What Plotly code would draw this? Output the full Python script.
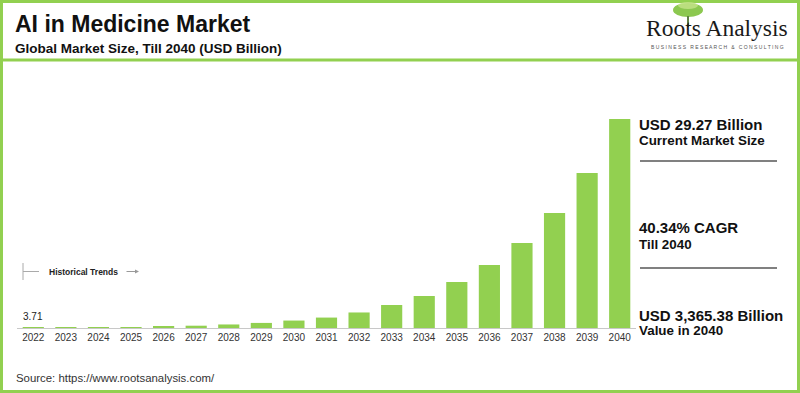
import plotly.graph_objects as go

years = [str(y) for y in range(2022, 2041)]
market_size = [3.71, 6, 10, 15, 24, 37, 57, 82, 120, 168, 250, 370, 515, 741,
               1014, 1369, 1852, 2496, 3365.38]
first_label = "3.71"

title = "AI in Medicine Market"
subtitle = "Global Market Size, Till 2040 (USD Billion)"
source = "Source: https://www.rootsanalysis.com/"
side_texts = [("USD 29.27 Billion", "Current Market Size"),
              ("40.34% CAGR", "Till 2040"),
              ("USD 3,365.38 Billion", "Value in 2040")]

W, H = 800, 393
L, R, T, B = 17, 636, 100, 328
GREEN = "#92D050"
FONT = "Arial, Liberation Sans, sans-serif"


def px(x):
    return (x - L) / (R - L)


def py(y):
    return (B - y) / (B - T)


fig = go.Figure(go.Bar(
    x=years, y=market_size, marker_color=GREEN, marker_line_width=0,
    hoverinfo="x+y"))

ymax = market_size[-1] * (B - T) / (B - 119)

shapes = []
annotations = []

# outer border
shapes.append(dict(type="rect", xref="paper", yref="paper",
                   x0=px(1.5), x1=px(W - 1.5), y0=py(H - 1.5), y1=py(1.5),
                   line=dict(color=GREEN, width=3)))
# header separator
shapes.append(dict(type="line", xref="paper", yref="paper",
                   x0=px(2), x1=px(W - 2), y0=py(60), y1=py(60),
                   line=dict(color=GREEN, width=3)))

annotations.append(dict(xref="paper", yref="paper", x=px(13), y=py(24),
                        xanchor="left", yanchor="middle", showarrow=False,
                        text="<b>" + title + "</b>",
                        font=dict(family=FONT, size=23, color="#111")))
annotations.append(dict(xref="paper", yref="paper", x=px(13), y=py(48.5),
                        xanchor="left", yanchor="middle", showarrow=False,
                        text="<b>" + subtitle + "</b>",
                        font=dict(family=FONT, size=13.5, color="#111")))

# logo (tree + wordmark)
shapes.append(dict(type="circle", xref="paper", yref="paper",
                   x0=px(673), x1=px(703), y0=py(17), y1=py(3),
                   fillcolor="#8CC850", line=dict(width=0)))
shapes.append(dict(type="circle", xref="paper", yref="paper",
                   x0=px(678), x1=px(698), y0=py(9), y1=py(2),
                   fillcolor="#C6E48A", line=dict(width=0), opacity=0.8))
shapes.append(dict(type="line", xref="paper", yref="paper",
                   x0=px(688), x1=px(688), y0=py(16), y1=py(27),
                   line=dict(color="#5f7f45", width=2)))
annotations.append(dict(xref="paper", yref="paper", x=px(717), y=py(28),
                        xanchor="center", yanchor="middle", showarrow=False,
                        text="Roots Analysis",
                        font=dict(family="Liberation Serif, Times New Roman, serif",
                                  size=23.5, color="#1a1a1a")))
annotations.append(dict(xref="paper", yref="paper", x=px(717), y=py(47),
                        xanchor="center", yanchor="middle", showarrow=False,
                        text="B U S I N E S S   R E S E A R C H   &   C O N S U L T I N G",
                        font=dict(family=FONT, size=5, color="#555")))

# historical trends marker
shapes.append(dict(type="line", xref="paper", yref="paper",
                   x0=px(23), x1=px(23), y0=py(263), y1=py(280),
                   line=dict(color="#aaa", width=1)))
shapes.append(dict(type="line", xref="paper", yref="paper",
                   x0=px(23), x1=px(39), y0=py(271.5), y1=py(271.5),
                   line=dict(color="#aaa", width=1)))
annotations.append(dict(xref="paper", yref="paper", x=px(47), y=py(271.5),
                        xanchor="left", yanchor="middle", showarrow=False,
                        text="<b>Historical Trends</b>",
                        font=dict(family=FONT, size=8.5, color="#222")))
annotations.append(dict(xref="paper", yref="paper", x=px(139), y=py(271.5),
                        ax=-14, ay=0, axref="pixel", ayref="pixel",
                        showarrow=True, arrowhead=2, arrowsize=0.8,
                        arrowwidth=1, arrowcolor="#999", text=""))

# first value label (category index 0)
annotations.append(dict(xref="x", yref="y", x=0, y=market_size[0], yshift=4,
                        xanchor="center", yanchor="bottom", showarrow=False,
                        text=first_label, font=dict(family=FONT, size=10, color="#222")))

# side panel
side_y = [(124, 140), (227, 244), (315, 330)]
for (t1, t2), (y1, y2) in zip(side_texts, side_y):
    annotations.append(dict(xref="paper", yref="paper", x=px(637), y=py(y1),
                            xanchor="left", yanchor="middle", showarrow=False,
                            text="<b>" + t1 + "</b>",
                            font=dict(family=FONT, size=15, color="#111")))
    annotations.append(dict(xref="paper", yref="paper", x=px(637), y=py(y2),
                            xanchor="left", yanchor="middle", showarrow=False,
                            text="<b>" + t2 + "</b>",
                            font=dict(family=FONT, size=13.4, color="#111")))
for yy in (161, 268):
    shapes.append(dict(type="line", xref="paper", yref="paper",
                       x0=px(640), x1=px(777), y0=py(yy), y1=py(yy),
                       line=dict(color="#808080", width=2)))

annotations.append(dict(xref="paper", yref="paper", x=px(14), y=py(378),
                        xanchor="left", yanchor="middle", showarrow=False,
                        text=source, font=dict(family=FONT, size=11.4, color="#333")))

fig.update_layout(
    width=W, height=H, autosize=False,
    margin=dict(l=L, r=W - R, t=T, b=H - B, pad=0),
    paper_bgcolor="white", plot_bgcolor="white",
    bargap=0.35, showlegend=False,
    shapes=shapes, annotations=annotations,
    xaxis=dict(type="category", range=[-0.5, len(years) - 0.5], automargin=False,
               showline=True, linecolor="#c8c8c8", linewidth=1,
               ticks="", tickfont=dict(family=FONT, size=10, color="#333"),
               showgrid=False, fixedrange=True),
    yaxis=dict(range=[0, ymax], visible=False, showgrid=False, fixedrange=True,
               automargin=False),
)

fig.write_html("out.html", config={"displayModeBar": False},
               post_script="document.body.style.margin='0';document.body.style.overflow='hidden';")
